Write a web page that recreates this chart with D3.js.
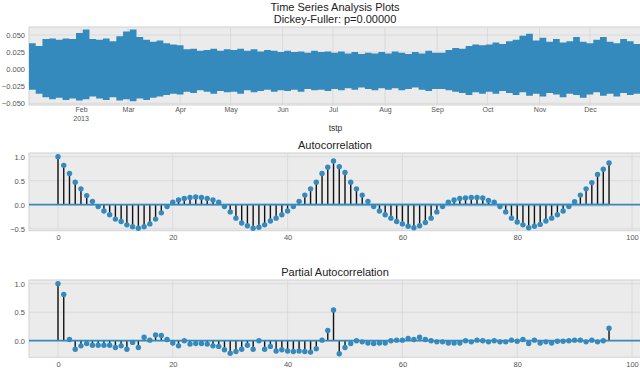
<!DOCTYPE html>
<html>
<head>
<meta charset="utf-8">
<script src="https://cdn.jsdelivr.net/npm/d3@7"></script>
<style>
  body { margin: 0; background: #fff; }
  svg { display: block; font-family: "Liberation Sans", Arial, sans-serif; }
</style>
</head>
<body>
<svg id="chart" width="640" height="374"></svg>
<script>
// daily high / low envelope of the series, one value every 4 days from 2013-01-01
const seriesStart = new Date(2013, 0, 1);
const stepDays = 4;
const upperEnv = [
  0.038, 0.034, 0.044, 0.045, 0.043, 0.045, 0.044, 0.053,
  0.058, 0.044, 0.043, 0.045, 0.041, 0.048, 0.055,
  0.058, 0.047, 0.043, 0.040, 0.042, 0.038, 0.036, 0.035,
  0.029, 0.030, 0.027, 0.028, 0.030, 0.027, 0.029,
  0.028, 0.030, 0.027, 0.029, 0.026, 0.028, 0.027, 0.025,
  0.027, 0.025, 0.026, 0.024, 0.027, 0.025, 0.026,
  0.024, 0.026, 0.023, 0.025, 0.022, 0.024, 0.023, 0.025,
  0.023, 0.026, 0.024, 0.022, 0.025, 0.023, 0.027, 0.024,
  0.024, 0.028, 0.031, 0.030, 0.034, 0.036, 0.035,
  0.036, 0.039, 0.037, 0.041, 0.043, 0.049, 0.052, 0.042,
  0.046, 0.040, 0.044, 0.039, 0.041, 0.047, 0.040,
  0.038, 0.043, 0.047, 0.040, 0.038, 0.044, 0.041, 0.037, 0.039
];
const lowerEnv = [
  -0.030, -0.036, -0.041, -0.044, -0.042, -0.045, -0.043, -0.046,
  -0.044, -0.040, -0.043, -0.045, -0.041, -0.046, -0.044,
  -0.047, -0.043, -0.045, -0.042, -0.040, -0.038, -0.036, -0.037,
  -0.033, -0.035, -0.031, -0.033, -0.036, -0.032, -0.034,
  -0.033, -0.036, -0.031, -0.034, -0.032, -0.030, -0.033, -0.031,
  -0.032, -0.030, -0.033, -0.029, -0.031, -0.030, -0.032,
  -0.029, -0.031, -0.028, -0.030, -0.027, -0.029, -0.031, -0.028,
  -0.030, -0.028, -0.031, -0.029, -0.027, -0.030, -0.032, -0.029,
  -0.029, -0.031, -0.033, -0.035, -0.038, -0.034, -0.036,
  -0.033, -0.036, -0.032, -0.035, -0.038, -0.034, -0.039, -0.036,
  -0.040, -0.035, -0.037, -0.041, -0.036, -0.038, -0.042,
  -0.037, -0.034, -0.039, -0.036, -0.040, -0.035, -0.038, -0.036, -0.034
];
const tsTicks = [0.05, 0.025, 0, -0.025, -0.05];

// lags 0..96
const acfValues = [
  1.00, 0.82, 0.65, 0.47, 0.33, 0.19, 0.07, -0.04, -0.13, -0.21,
  -0.30, -0.35, -0.42, -0.46, -0.49, -0.46, -0.40, -0.30, -0.17, -0.04,
  0.05, 0.10, 0.13, 0.15, 0.16, 0.15, 0.13, 0.10, 0.05, -0.04,
  -0.15, -0.28, -0.38, -0.44, -0.49, -0.47, -0.42, -0.34, -0.28, -0.21,
  -0.13, -0.04, 0.07, 0.20, 0.33, 0.47, 0.65, 0.78, 0.91, 0.79,
  0.67, 0.47, 0.33, 0.20, 0.07, -0.04, -0.13, -0.21, -0.28, -0.35,
  -0.40, -0.45, -0.48, -0.44, -0.37, -0.28, -0.15, -0.04, 0.05, 0.10,
  0.13, 0.14, 0.15, 0.15, 0.14, 0.09, 0.05, -0.04, -0.15, -0.28,
  -0.36, -0.42, -0.48, -0.45, -0.41, -0.34, -0.28, -0.21, -0.13, -0.04,
  0.06, 0.20, 0.33, 0.46, 0.63, 0.74, 0.87
];
const pacfValues = [
  1.00, 0.81, 0.02, -0.15, -0.09, -0.05, -0.08, -0.08, -0.08, -0.08,
  -0.12, -0.09, -0.15, -0.03, -0.12, 0.06, 0.01, 0.10, 0.09, 0.02,
  -0.04, -0.09, 0.00, -0.06, -0.05, -0.05, -0.06, -0.09, -0.10, -0.16,
  -0.22, -0.19, -0.15, -0.08, -0.15, 0.00, -0.15, -0.10, -0.18, -0.16,
  -0.18, -0.19, -0.18, -0.19, -0.20, -0.14, 0.01, 0.18, 0.54, -0.23,
  -0.12, -0.05, 0.00, -0.02, -0.04, -0.05, -0.04, -0.04, 0.00, 0.01,
  0.01, 0.04, 0.02, 0.06, 0.02, 0.00, -0.02, -0.02, -0.04, -0.04,
  -0.04, 0.00, -0.02, 0.01, 0.00, -0.02, 0.00, -0.02, -0.02, 0.01,
  -0.01, 0.02, -0.05, 0.01, -0.04, -0.02, -0.04, -0.01, -0.01, 0.00,
  0.01, 0.01, -0.02, 0.01, -0.02, 0.00, 0.22
];
// sample size behind the confidence bands (band width)
const nObs = 60000;
const lagTicks = [0, 20, 40, 60, 80, 100];
const acfTicks = [1, 0.5, 0, -0.5];
const pacfTicks = [1, 0.5, 0];

const blue = '#348ABD';
const bg = '#ebebeb';
const gridColor = '#d6d6d6';
const labelColor = '#555';
const left = 29, right = 642;

const svg = d3.select('#chart');

svg.append('text')
  .attr('x', 335).attr('y', 10.5)
  .attr('text-anchor', 'middle')
  .attr('font-size', 11).attr('fill', '#222')
  .text('Time Series Analysis Plots');
svg.append('text')
  .attr('x', 335).attr('y', 22.5)
  .attr('text-anchor', 'middle')
  .attr('font-size', 11).attr('fill', '#222')
  .text('Dickey-Fuller: p=0.00000');

// ---- time series panel ----
const tsTop = 27, tsBottom = 105;
const x = d3.scaleTime()
  .domain([seriesStart, d3.timeYear.offset(seriesStart, 1)])
  .range([left, right]);
const y = d3.scaleLinear().domain([-0.05, 0.05]).range([103.3, 35]);
const months = d3.timeMonth.range(new Date(2013, 1, 1), new Date(2014, 0, 1));

svg.append('rect')
  .attr('x', left).attr('y', tsTop)
  .attr('width', right - left).attr('height', tsBottom - tsTop)
  .attr('fill', bg).attr('stroke', '#d2d2d2');

svg.append('clipPath').attr('id', 'tsClip')
  .append('rect')
  .attr('x', left).attr('y', tsTop)
  .attr('width', right - left).attr('height', tsBottom - tsTop);

svg.append('g').selectAll('line')
  .data(months)
  .enter().append('line')
  .attr('x1', d => x(d)).attr('x2', d => x(d))
  .attr('y1', tsTop).attr('y2', tsBottom)
  .attr('stroke', gridColor).attr('stroke-width', 0.8);
svg.append('g').selectAll('line')
  .data(tsTicks)
  .enter().append('line')
  .attr('x1', left).attr('x2', right)
  .attr('y1', d => y(d)).attr('y2', d => y(d))
  .attr('stroke', gridColor).attr('stroke-width', 0.8);

const envPoints = upperEnv.map((u, i) => ({
  date: d3.timeDay.offset(seriesStart, i * stepDays),
  hi: u,
  lo: lowerEnv[i]
}));
envPoints.push({
  date: x.domain()[1],
  hi: upperEnv[upperEnv.length - 1],
  lo: lowerEnv[lowerEnv.length - 1]
});

const envArea = d3.area()
  .curve(d3.curveStepAfter)
  .x(d => x(d.date))
  .y0(d => y(d.lo))
  .y1(d => y(d.hi));

svg.append('path')
  .datum(envPoints)
  .attr('clip-path', 'url(#tsClip)')
  .attr('fill', blue)
  .attr('d', envArea);

const tsAxisY = svg.append('g')
  .attr('transform', `translate(${left},0)`)
  .call(d3.axisLeft(y).tickValues(tsTicks).tickSize(0).tickPadding(4).tickFormat(d3.format('.3f')));
tsAxisY.select('.domain').remove();
tsAxisY.selectAll('text').attr('font-size', 7.5).attr('fill', labelColor).attr('font-family', null);

const tsAxisX = svg.append('g')
  .attr('transform', `translate(0,${tsBottom})`)
  .call(d3.axisBottom(x).tickValues(months).tickSize(0).tickPadding(2).tickFormat(d3.timeFormat('%b')));
tsAxisX.select('.domain').remove();
tsAxisX.selectAll('text').attr('font-size', 7).attr('fill', labelColor).attr('font-family', null);

svg.append('text')
  .attr('x', x(months[0])).attr('y', 121)
  .attr('text-anchor', 'middle')
  .attr('font-size', 7).attr('fill', labelColor)
  .text('2013');

svg.append('text')
  .attr('x', (left + right) / 2).attr('y', 131)
  .attr('text-anchor', 'middle')
  .attr('font-size', 8.5).attr('fill', '#333')
  .text('tstp');

// ---- correlation panels ----
const lagX = d3.scaleLinear().domain([0, 100]).range([58, 632]);

function corrPanel(values, bandHalf, ticks, yScale, top, bottom, title) {
  const g = svg.append('g');

  g.append('rect')
    .attr('x', left).attr('y', top)
    .attr('width', right - left).attr('height', bottom - top)
    .attr('fill', bg).attr('stroke', '#d2d2d2');

  g.selectAll('.vgrid')
    .data(lagTicks)
    .enter().append('line')
    .attr('x1', d => lagX(d)).attr('x2', d => lagX(d))
    .attr('y1', top).attr('y2', bottom)
    .attr('stroke', gridColor).attr('stroke-width', 0.8);
  g.selectAll('.hgrid')
    .data(ticks)
    .enter().append('line')
    .attr('x1', left).attr('x2', right)
    .attr('y1', d => yScale(d)).attr('y2', d => yScale(d))
    .attr('stroke', gridColor).attr('stroke-width', 0.8);

  g.selectAll('.stem')
    .data(values)
    .enter().append('line')
    .attr('x1', (d, i) => lagX(i)).attr('x2', (d, i) => lagX(i))
    .attr('y1', yScale(0)).attr('y2', d => yScale(d))
    .attr('stroke', '#111').attr('stroke-width', 1.4);

  g.append('line')
    .attr('x1', left).attr('x2', right)
    .attr('y1', yScale(0)).attr('y2', yScale(0))
    .attr('stroke', blue).attr('stroke-width', 1.8);

  g.selectAll('.dot')
    .data(values)
    .enter().append('circle')
    .attr('cx', (d, i) => lagX(i))
    .attr('cy', d => yScale(d))
    .attr('r', 2.7)
    .attr('fill', blue);

  g.append('path')
    .datum(bandHalf)
    .attr('fill', blue).attr('fill-opacity', 0.25)
    .attr('d', d3.area()
      .x((d, i) => lagX(i))
      .y0(d => yScale(-d))
      .y1(d => yScale(d)));

  const ay = g.append('g')
    .attr('transform', `translate(${left},0)`)
    .call(d3.axisLeft(yScale).tickValues(ticks).tickSize(0).tickPadding(4).tickFormat(d3.format('.1f')));
  ay.select('.domain').remove();
  ay.selectAll('text').attr('font-size', 7.5).attr('fill', labelColor).attr('font-family', null);

  const ax = g.append('g')
    .attr('transform', `translate(0,${bottom})`)
    .call(d3.axisBottom(lagX).tickValues(lagTicks).tickSize(0).tickPadding(4));
  ax.select('.domain').remove();
  ax.selectAll('text').attr('font-size', 7.5).attr('fill', labelColor).attr('font-family', null);

  g.append('text')
    .attr('x', 335).attr('y', top - 4.5)
    .attr('text-anchor', 'middle')
    .attr('font-size', 11).attr('fill', '#222')
    .text(title);
}

// Bartlett band for the ACF, flat band for the PACF
let cum = 0;
const acfBand = acfValues.map((v, k) => {
  if (k === 0) return 0;
  const se = Math.sqrt((1 + 2 * cum) / nObs);
  cum += v * v;
  return 1.96 * se;
});
const pacfBand = pacfValues.map((v, k) => k === 0 ? 0 : 1.96 / Math.sqrt(nObs));

corrPanel(acfValues, acfBand, acfTicks,
  d3.scaleLinear().domain([-0.5, 1]).range([228.7, 156.7]), 153, 230.7, 'Autocorrelation');
corrPanel(pacfValues, pacfBand, pacfTicks,
  d3.scaleLinear().domain([0, 1]).range([340.7, 283.7]), 280, 357.3, 'Partial Autocorrelation');
</script>
</body>
</html>
